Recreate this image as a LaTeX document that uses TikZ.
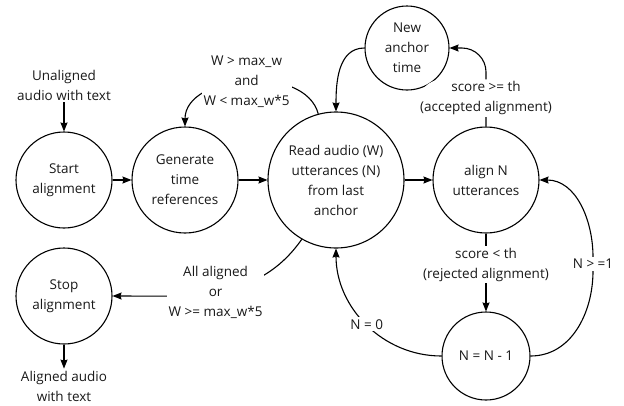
\documentclass[tikz,border=0pt]{standalone}
\usepackage{fontspec}
\setmainfont{Open Sans}
\usetikzlibrary{arrows.meta, positioning}
\definecolor{inkgray}{RGB}{25, 25, 25}

\begin{document}
\begin{tikzpicture}[
    x=1pt, y=1pt,
    font=\fontsize{13.5}{20}\selectfont,
    state/.style={draw, circle, line width=1.1pt, align=center, inner sep=1pt, text=inkgray},
    txt/.style={align=center, inner sep=2pt, text=inkgray},
    lbl/.style={align=center, fill=white, inner sep=2pt, text=inkgray},
    arrow/.style={-{Stealth[length=9pt, width=7pt, inset=1pt]}, line width=1.1pt}
]
    \useasboundingbox (0,0) rectangle (624,-405);

    % States - main row
    \node[state, minimum size=96pt] (start) at (64,-180) {Start\\alignment};
    \node[state, minimum size=106pt] (generate) at (185,-180) {Generate\\time\\references};
    \node[state, minimum size=136pt] (read) at (336,-180) {Read audio (W)\\utterances (N)\\from last\\anchor};
    \node[state, minimum size=106pt] (align) at (486,-180) {align N\\utterances};

    % States - above and below
    \node[state, minimum size=84pt] (newanchor) at (407,-48) {New\\anchor\\time};
    \node[state, minimum size=88pt] (decrement) at (486,-356) {N = N - 1};
    \node[state, minimum size=96pt] (stop) at (64,-296) {Stop\\alignment};

    % Input and output
    \node[txt] (unaligned) at (64,-85) {Unaligned\\audio with text};
    \node[txt] (aligned) at (64,-386) {Aligned audio\\with text};

    % Arrows
    \draw[arrow] (unaligned) -- (start);
    \draw[arrow] (start) -- (generate);
    \draw[arrow] (generate) -- (read);
    \draw[arrow] (read) -- (align);
    \draw[arrow] (stop) -- (aligned);
    \draw[arrow] (read.105) to[out=105, in=90]
        node[lbl, pos=0.5] {W > max\_w\\and\\W < max\_w*5} (generate.north);
    \draw[arrow] (newanchor.west) to[out=180, in=90] (read.north);
    \draw[arrow, rounded corners=24pt] (align.north) |-
        node[lbl, pos=0.18] {score >= th\\(accepted alignment)} (newanchor.east);
    \draw[arrow] (align.south) --
        node[lbl, pos=0.4] {score < th\\(rejected alignment)} (decrement.north);
    \draw[arrow] (decrement.west) to[out=180, in=-90]
        node[lbl, pos=0.5] {N = 0} (read.south);
    \node[lbl] (nmore) at (593,-264) {N > =1};
    \draw[line width=1.1pt] (decrement.east) to[out=0, in=-90] (nmore.south);
    \draw[arrow] (nmore.north) to[out=90, in=0] (align.east);
    \draw[arrow] (read.240) to[out=235, in=0]
        node[lbl, pos=0.52] {All aligned\\or\\W >= max\_w*5} (stop.east);
\end{tikzpicture}
\end{document}
